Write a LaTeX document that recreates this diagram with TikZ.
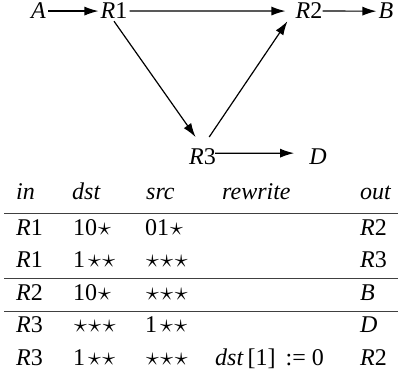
\documentclass[tikz,border=0pt]{standalone}
\usepackage{fontspec}
\usepackage{graphicx}
\setmainfont{Liberation Serif}
\usetikzlibrary{arrows.meta}

\tikzset{
  lbl/.style={inner sep=2pt, anchor=base, font=\fontsize{24}{28}\selectfont},
  cell/.style={inner sep=0pt, anchor=base west, font=\fontsize{24}{28}\selectfont},
  route/.style={-{Latex[length=14pt,width=9pt]}, line width=1.2pt},
  tabrule/.style={black!75, line width=0.9pt}
}
\newcommand{\st}{\kern0.8pt\scalebox{1.05}{$\star$}\kern0.8pt}

\begin{document}
\begin{tikzpicture}[x=1pt, y=-1pt]
  \useasboundingbox (0,0) rectangle (398,379);
  % routers and hosts
  \node[lbl] (A) at (38.5,19) {\textit{A}};
  \node[lbl] (R1) at (114,19) {\textit{R}1};
  \node[lbl] (R2) at (309,19) {\textit{R}2};
  \node[lbl] (B) at (386,19) {\textit{B}};
  \node[lbl] (R3) at (202.5,165) {\textit{R}3};
  \node[lbl] (D) at (318,165) {\textit{D}};
  % links
  \draw[route] (A.east) -- (R1.west);
  \draw[route, shorten >=8pt] (R1.east) -- (R2.west);
  \draw[route, shorten <=-2pt] (R2.east) -- (B.west);
  \draw[route, shorten >=12pt] (R1.south) -- (R3.north);
  \draw[route, shorten <=12pt] (R3.north) -- ([xshift=-6pt]R2.south west);
  \draw[route, shorten <=-3pt, shorten >=13pt] ([yshift=4pt]R3.east) -- ([yshift=4pt]D.west);
  % forwarding table
  \node[cell] (hin) at (16,200) {\textit{in}};
  \node[cell] (hdst) at (72,200) {\textit{dst}};
  \node[cell] (hsrc) at (146,200) {\textit{src}};
  \node[cell] (hrw) at (222,200) {\textit{rewrite}};
  \node[cell] (hout) at (360,200) {\textit{out}};
  \draw[tabrule] (4,213) -- (398,213);
  \foreach \a/\b/\c/\d/\e [count=\i] in {
      {\textit{R}1}/{10\st}/{01\st}/{}/{\textit{R}2},
      {\textit{R}1}/{1\kern2pt\st\st}/{\st\st\st}/{}/{\textit{R}3},
      {\textit{R}2}/{10\st}/{\st\st\st}/{}/{\textit{B}},
      {\textit{R}3}/{\st\st\st}/{1\kern2pt\st\st}/{}/{\textit{D}},
      {\textit{R}3}/{1\kern2pt\st\st}/{\st\st\st}/{\textit{dst}\kern4pt[1]\hspace{10pt}:=\hspace{6pt}0}/{\textit{R}2}} {
    \node[cell] (in\i) at (16,202.5+32.5*\i) {\a};
    \node[cell] (dst\i) at (73,202.5+32.5*\i) {\b};
    \node[cell] (src\i) at (145,202.5+32.5*\i) {\c};
    \node[cell] (rw\i) at (215,202.5+32.5*\i) {\d};
    \node[cell] (out\i) at (360,202.5+32.5*\i) {\e};
  }
  \draw[tabrule] (4,278) -- (398,278);
  \draw[tabrule] (4,311) -- (398,311);
\end{tikzpicture}
\end{document}
